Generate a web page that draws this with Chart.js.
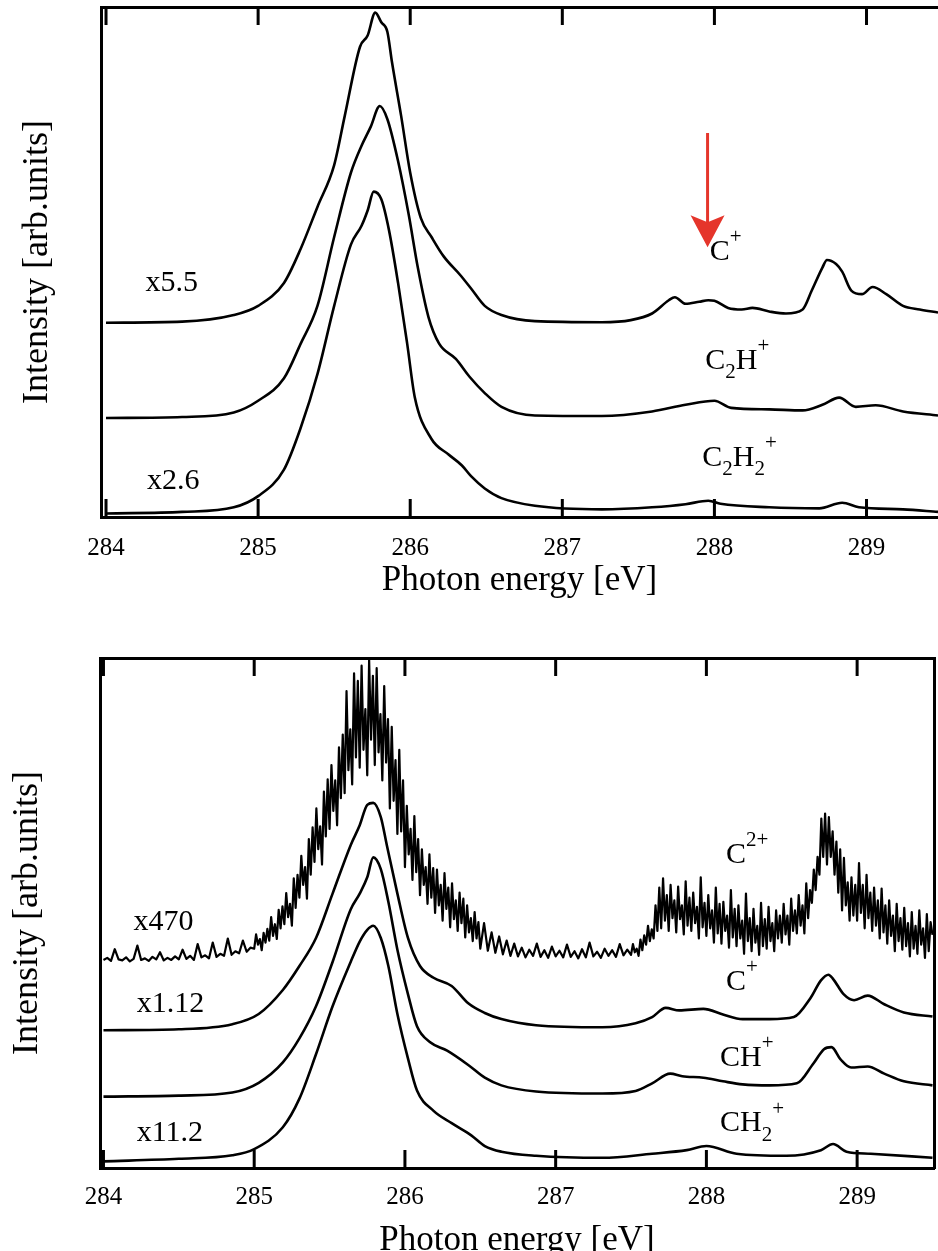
<!DOCTYPE html>
<html>
<head>
<meta charset="utf-8">
<script src="https://cdn.jsdelivr.net/npm/chart.js@4.4.0/dist/chart.umd.min.js"></script>
<style>
  html, body { margin: 0; padding: 0; background: #fff; overflow: hidden; }
  canvas { position: absolute; left: 0; }
  #topChart { top: 0; }
  #bottomChart { top: 620px; }
</style>
</head>
<body>
<canvas id="topChart" width="938" height="640"></canvas>
<canvas id="bottomChart" width="938" height="650"></canvas>
<script>
// photon energy ticks (eV), same for both panels
var xTicks = [284, 285, 286, 287, 288, 289];

// ---- upper panel: C+ (x5.5), C2H+, C2H2+ (x2.6) ----
var cPlusE = [284.0, 284.5, 284.84, 285.0, 285.17, 285.28, 285.39, 285.5, 285.57, 285.67, 285.72, 285.77, 285.81, 285.85, 285.88, 285.94, 286.0, 286.07, 286.14, 286.22, 286.33, 286.4, 286.49, 286.6, 286.82, 287.26, 287.45, 287.59, 287.7, 287.74, 287.81, 287.9, 287.96, 288.0, 288.09, 288.18, 288.25, 288.36, 288.47, 288.58, 288.64, 288.71, 288.74, 288.8, 288.84, 288.9, 288.97, 289.04, 289.13, 289.24, 289.35, 289.47];
var cPlusY = [38.1, 38.3, 39.6, 41.4, 45.9, 52.6, 60.8, 69.0, 78.7, 92.2, 94.4, 98.9, 97.0, 95.1, 89.2, 78.7, 67.5, 58.6, 54.9, 51.1, 47.4, 44.8, 41.4, 39.6, 38.4, 38.2, 38.6, 39.9, 42.5, 43.1, 41.8, 42.2, 42.5, 42.4, 41.0, 40.7, 41.0, 40.3, 39.9, 40.7, 44.4, 48.9, 50.4, 49.6, 48.1, 44.4, 43.7, 45.1, 43.7, 41.4, 40.7, 40.1];

var c2hE = [284.0, 284.5, 284.84, 285.0, 285.17, 285.28, 285.39, 285.5, 285.61, 285.68, 285.74, 285.8, 285.85, 285.92, 285.99, 286.05, 286.12, 286.19, 286.3, 286.39, 286.49, 286.6, 286.82, 287.26, 287.59, 287.81, 288.0, 288.11, 288.36, 288.58, 288.71, 288.82, 288.93, 289.06, 289.24, 289.47];
var c2hY = [19.4, 19.6, 20.5, 22.8, 27.2, 34.0, 41.4, 54.9, 67.5, 72.8, 76.5, 80.6, 78.0, 69.8, 59.3, 48.9, 39.2, 34.0, 31.0, 27.5, 24.3, 21.6, 19.9, 19.8, 20.7, 22.0, 22.8, 21.4, 21.1, 20.9, 22.0, 23.4, 21.6, 21.9, 20.7, 19.9];

var c2h2E = [284.0, 284.5, 284.84, 285.0, 285.17, 285.28, 285.39, 285.5, 285.61, 285.68, 285.72, 285.76, 285.81, 285.86, 285.92, 285.98, 286.03, 286.14, 286.25, 286.34, 286.4, 286.49, 286.6, 286.82, 287.26, 287.59, 287.81, 287.96, 288.04, 288.36, 288.69, 288.84, 288.95, 289.24, 289.47];
var c2h2Y = [0.7, 1.0, 1.9, 4.1, 9.3, 17.5, 28.0, 41.4, 53.4, 57.1, 60.1, 63.8, 62.3, 56.3, 45.9, 34.0, 23.5, 15.3, 12.3, 10.1, 8.0, 5.6, 3.7, 2.2, 1.5, 1.9, 2.5, 3.2, 2.6, 1.9, 1.7, 2.8, 1.9, 1.5, 1.0];

// ---- lower panel: C2+ (x470, noisy), C+ (x1.12), CH+, CH2+ (x11.2) ----
var c2PlusE = [
  284, 284.025, 284.05, 284.075, 284.1, 284.125, 284.15, 284.175, 284.2, 284.225, 284.25, 284.275, 284.3, 284.325, 284.35, 284.375, 284.4, 284.425, 284.45, 284.475,
  284.5, 284.525, 284.55, 284.575, 284.6, 284.625, 284.65, 284.675, 284.7, 284.725, 284.75, 284.775, 284.8, 284.825, 284.85, 284.875, 284.9, 284.925, 284.95, 284.975,
  285, 285.0125, 285.025, 285.0375, 285.05, 285.0625, 285.075, 285.0875,
  285.1, 285.1125, 285.125, 285.1375, 285.15, 285.1625, 285.175, 285.1875,
  285.2, 285.2125, 285.225, 285.2375, 285.25, 285.2625, 285.275, 285.2875,
  285.3, 285.3125, 285.325, 285.3375, 285.35, 285.3625, 285.375, 285.3875,
  285.4, 285.4125, 285.425, 285.4375, 285.45, 285.4625, 285.475, 285.4875,
  285.5, 285.5125, 285.525, 285.5375, 285.55, 285.5625, 285.575, 285.5875,
  285.6, 285.6125, 285.625, 285.6375, 285.65, 285.6625, 285.675, 285.6875,
  285.7, 285.7125, 285.725, 285.7375, 285.75, 285.7625, 285.775, 285.7875,
  285.8, 285.8125, 285.825, 285.8375, 285.85, 285.8625, 285.875, 285.8875,
  285.9, 285.9125, 285.925, 285.9375, 285.95, 285.9625, 285.975, 285.9875,
  286, 286.0125, 286.025, 286.0375, 286.05, 286.0625, 286.075, 286.0875,
  286.1, 286.1125, 286.125, 286.1375, 286.15, 286.1625, 286.175, 286.1875,
  286.2, 286.2125, 286.225, 286.2375, 286.25, 286.2625, 286.275, 286.2875,
  286.3, 286.3125, 286.325, 286.3375, 286.35, 286.3625, 286.375, 286.3875,
  286.4, 286.4125, 286.425, 286.4375, 286.45, 286.4625, 286.475, 286.4875,
  286.5, 286.525, 286.55, 286.575, 286.6, 286.625, 286.65, 286.675, 286.7, 286.725, 286.75, 286.775, 286.8, 286.825, 286.85, 286.875, 286.9, 286.925, 286.95, 286.975,
  287, 287.025, 287.05, 287.075, 287.1, 287.125, 287.15, 287.175, 287.2, 287.225, 287.25, 287.275, 287.3, 287.325, 287.35, 287.375, 287.4, 287.425, 287.45, 287.475,
  287.5, 287.5125, 287.525, 287.5375, 287.55, 287.5625, 287.575, 287.5875,
  287.6, 287.6125, 287.625, 287.6375, 287.65, 287.6625, 287.675, 287.6875,
  287.7, 287.7125, 287.725, 287.7375, 287.75, 287.7625, 287.775, 287.7875,
  287.8, 287.8125, 287.825, 287.8375, 287.85, 287.8625, 287.875, 287.8875,
  287.9, 287.9125, 287.925, 287.9375, 287.95, 287.9625, 287.975, 287.9875,
  288, 288.0125, 288.025, 288.0375, 288.05, 288.0625, 288.075, 288.0875,
  288.1, 288.1125, 288.125, 288.1375, 288.15, 288.1625, 288.175, 288.1875,
  288.2, 288.2125, 288.225, 288.2375, 288.25, 288.2625, 288.275, 288.2875,
  288.3, 288.3125, 288.325, 288.3375, 288.35, 288.3625, 288.375, 288.3875,
  288.4, 288.4125, 288.425, 288.4375, 288.45, 288.4625, 288.475, 288.4875,
  288.5, 288.5125, 288.525, 288.5375, 288.55, 288.5625, 288.575, 288.5875,
  288.6, 288.6125, 288.625, 288.6375, 288.65, 288.6625, 288.675, 288.6875,
  288.7, 288.7125, 288.725, 288.7375, 288.75, 288.7625, 288.775, 288.7875,
  288.8, 288.8125, 288.825, 288.8375, 288.85, 288.8625, 288.875, 288.8875,
  288.9, 288.9125, 288.925, 288.9375, 288.95, 288.9625, 288.975, 288.9875,
  289, 289.0125, 289.025, 289.0375, 289.05, 289.0625, 289.075, 289.0875,
  289.1, 289.1125, 289.125, 289.1375, 289.15, 289.1625, 289.175, 289.1875,
  289.2, 289.2125, 289.225, 289.2375, 289.25, 289.2625, 289.275, 289.2875,
  289.3, 289.3125, 289.325, 289.3375, 289.35, 289.3625, 289.375, 289.3875,
  289.4, 289.4125, 289.425, 289.4375, 289.45, 289.4625, 289.475, 289.4875,
  289.5
];
var c2PlusY = [
  40.8, 41.2, 40.6, 42.9, 40.9, 40.7, 41.3, 40.5, 41.0, 43.6, 40.8, 41.1, 40.6, 41.4, 40.9, 42.3, 40.7, 41.2, 40.8, 41.5,
  40.9, 42.8, 41.0, 41.6, 40.8, 43.9, 41.3, 41.7, 41.1, 44.2, 41.4, 42.0, 41.6, 45.0, 41.8, 42.5, 42.1, 44.6, 42.4, 43.2,
  43.0, 45.8, 43.8, 44.9, 42.7, 46.1, 44.2, 46.9,
  44.6, 49.2, 45.5, 47.8, 44.9, 50.6, 47.0, 51.3,
  47.8, 53.9, 49.2, 51.8, 47.5, 56.8, 51.0, 57.5,
  53.0, 61.2, 55.5, 59.0, 52.8, 64.5, 57.5, 66.8,
  60.0, 70.5, 62.5, 67.0, 59.5, 73.8, 65.0, 76.2,
  66.5, 79.0, 70.0, 76.0, 67.2, 82.5, 72.5, 85.0,
  73.5, 93.5, 78.0, 86.0, 75.2, 97.0, 80.5, 95.5,
  78.5, 98.5, 82.0, 90.0, 77.0, 99.6, 84.0, 96.5,
  79.0, 98.0, 81.5, 89.0, 76.0, 94.5, 79.5, 88.0,
  70.5, 86.5, 72.0, 80.0, 65.5, 82.0, 66.0, 76.0,
  59.0, 71.0, 61.5, 66.5, 56.5, 69.0, 58.0, 64.5,
  53.5, 62.5, 55.5, 59.0, 51.8, 61.5, 53.0, 58.8,
  50.0, 58.5, 51.5, 55.5, 48.5, 57.8, 50.8, 55.0,
  47.2, 55.8, 48.8, 52.5, 46.5, 54.0, 48.0, 52.8,
  45.2, 51.5, 46.2, 49.0, 44.5, 50.2, 45.0, 48.2,
  43.0, 48.0, 42.6, 46.2, 42.2, 45.4, 41.9, 44.6, 41.6, 44.0, 41.5, 43.2, 41.3, 42.8, 41.6, 44.0, 41.4, 42.7, 41.2, 43.4,
  41.5, 42.6, 41.3, 43.8, 41.4, 42.5, 41.1, 42.9, 41.3, 44.2, 41.5, 42.4, 41.2, 43.0, 41.6, 42.7, 41.4, 43.9, 41.7, 42.8,
  41.8, 43.9, 42.3, 43.0, 41.6, 44.8, 42.7, 45.6,
  43.8, 47.5, 44.5, 46.8, 45.0, 51.5, 46.5, 55.0,
  47.0, 56.8, 48.5, 53.5, 46.5, 55.5, 49.0, 52.5,
  46.2, 55.2, 48.8, 51.5, 45.8, 56.2, 47.5, 53.0,
  46.5, 54.0, 48.0, 51.2, 45.0, 57.0, 47.2, 52.0,
  45.5, 53.5, 47.0, 50.5, 44.2, 55.0, 46.0, 51.8,
  44.0, 52.2, 46.5, 49.5, 43.2, 54.5, 45.2, 50.8,
  43.5, 51.5, 45.0, 48.5, 42.0, 53.8, 44.5, 49.0,
  42.5, 50.8, 44.2, 47.5, 41.8, 52.0, 43.5, 48.8,
  43.0, 51.2, 44.5, 48.0, 42.5, 50.5, 45.0, 49.5,
  44.2, 51.8, 45.8, 49.5, 43.8, 52.8, 46.5, 50.5,
  46.0, 53.5, 47.5, 51.5, 46.0, 55.8, 49.0, 54.5,
  52.0, 58.5, 54.5, 61.0, 57.5, 68.5, 61.0, 69.5,
  59.5, 68.8, 61.0, 66.0, 57.5, 64.0, 54.0, 62.5,
  50.5, 60.8, 51.5, 56.0, 48.5, 57.0, 49.5, 55.5,
  48.5, 59.8, 50.0, 55.5, 47.0, 57.5, 49.0, 54.0,
  46.5, 55.0, 47.5, 52.5, 45.0, 54.8, 46.2, 51.5,
  44.0, 52.5, 45.5, 49.5, 42.5, 51.8, 44.5, 49.0,
  42.8, 51.0, 43.5, 48.0, 41.5, 50.2, 43.0, 47.5,
  42.0, 50.5, 43.8, 47.0, 41.2, 49.8, 42.5, 48.2,
  45.7
];

var cPlus2E = [284.0, 284.5, 284.855, 285.03, 285.19, 285.3, 285.41, 285.52, 285.64, 285.7, 285.75, 285.79, 285.84, 285.88, 285.95, 286.02, 286.1, 286.19, 286.31, 286.42, 286.53, 286.64, 286.87, 287.31, 287.53, 287.64, 287.73, 287.82, 287.98, 288.11, 288.24, 288.42, 288.58, 288.69, 288.76, 288.81, 288.84, 288.91, 288.98, 289.07, 289.18, 289.31, 289.5];
var cPlus2Y = [27.0, 27.2, 28.2, 30.2, 34.9, 39.6, 45.1, 53.8, 63.3, 67.2, 71.2, 71.6, 68.8, 63.3, 53.8, 45.1, 39.6, 37.3, 35.7, 32.3, 30.4, 29.2, 28.0, 27.6, 28.4, 29.6, 31.4, 30.9, 31.2, 30.1, 29.2, 29.2, 29.6, 33.3, 36.8, 37.9, 37.1, 34.1, 32.9, 33.8, 32.1, 30.5, 29.7];

var chE = [284.0, 284.5, 284.855, 285.03, 285.19, 285.3, 285.41, 285.52, 285.64, 285.7, 285.75, 285.79, 285.84, 285.89, 285.95, 286.02, 286.08, 286.17, 286.28, 286.42, 286.53, 286.64, 286.87, 287.31, 287.53, 287.64, 287.76, 287.84, 287.98, 288.11, 288.24, 288.42, 288.6, 288.71, 288.78, 288.83, 288.89, 288.96, 289.07, 289.18, 289.31, 289.5];
var chY = [14.0, 14.2, 14.8, 16.7, 20.7, 25.4, 31.7, 40.4, 50.7, 53.8, 57.0, 60.9, 58.6, 52.2, 42.8, 34.1, 27.8, 24.6, 23.0, 20.2, 17.7, 16.2, 15.0, 14.6, 15.1, 16.6, 18.5, 18.0, 17.7, 17.0, 16.4, 16.2, 16.6, 20.5, 23.3, 23.7, 21.3, 19.7, 19.9, 18.5, 17.0, 16.2];

var ch2E = [284.0, 284.5, 284.855, 285.0, 285.19, 285.3, 285.41, 285.52, 285.64, 285.7, 285.75, 285.79, 285.84, 285.89, 285.95, 286.02, 286.08, 286.19, 286.31, 286.44, 286.53, 286.64, 286.87, 287.31, 287.64, 287.87, 288.0, 288.2, 288.53, 288.76, 288.84, 288.93, 289.09, 289.5];
var ch2Y = [1.3, 1.8, 2.5, 3.7, 8.0, 13.6, 22.3, 31.7, 40.4, 44.4, 46.7, 47.5, 45.1, 39.6, 30.2, 21.5, 15.2, 11.2, 8.8, 6.4, 4.3, 3.2, 2.4, 2.0, 2.8, 3.5, 4.3, 2.8, 2.4, 3.5, 4.7, 3.2, 2.8, 2.0];

var FONT = "'Liberation Serif', 'Times New Roman', serif";

function pts(xs, ys) {
    return xs.map(function (x, i) { return { x: x, y: ys[i] }; });
}

function trace(xs, ys, noisy) {
    return {
        data: pts(xs, ys),
        borderColor: '#000',
        borderWidth: noisy ? 2.2 : 2.6,
        pointRadius: 0,
        fill: false,
        tension: 0,
        cubicInterpolationMode: noisy ? 'default' : 'monotone',
        borderJoinStyle: 'round'
    };
}

// inward tick marks, species labels, red arrow
var decorPlugin = {
    id: 'decor',
    afterDraw: function (chart) {
        var o = chart.options.plugins.decor;
        var ctx = chart.ctx, a = chart.chartArea;
        var sx = chart.scales.x, sy = chart.scales.y;
        ctx.save();
        ctx.strokeStyle = '#000';
        ctx.lineWidth = 3;
        sx.ticks.forEach(function (t) {
            var px = sx.getPixelForValue(t.value);
            ctx.beginPath();
            ctx.moveTo(px, a.bottom); ctx.lineTo(px, a.bottom - 18);
            ctx.moveTo(px, a.top); ctx.lineTo(px, a.top + 18);
            ctx.stroke();
        });

        ctx.fillStyle = '#000';
        ctx.textBaseline = 'middle';
        ctx.textAlign = 'left';
        o.labels.forEach(function (lb) {
            var px = sx.getPixelForValue(lb.x), py = sy.getPixelForValue(lb.y);
            lb.parts.forEach(function (p) {
                var size = p[1] ? 21 : 30;
                var dy = p[1] === 'sup' ? -14 : (p[1] === 'sub' ? 12 : 0);
                ctx.font = size + 'px ' + FONT;
                ctx.fillText(p[0], px, py + dy);
                px += ctx.measureText(p[0]).width;
            });
        });

        if (o.arrow) {
            var ax = sx.getPixelForValue(o.arrow.x);
            var y0 = sy.getPixelForValue(o.arrow.from);
            var yTip = sy.getPixelForValue(o.arrow.to);
            var yHead = yTip - 32;
            ctx.strokeStyle = '#e5352b';
            ctx.fillStyle = '#e5352b';
            ctx.lineWidth = 3;
            ctx.beginPath();
            ctx.moveTo(ax, y0); ctx.lineTo(ax, yHead + 8);
            ctx.stroke();
            ctx.beginPath();
            ctx.moveTo(ax - 17, yHead);
            ctx.lineTo(ax, yHead + 7);
            ctx.lineTo(ax + 17, yHead);
            ctx.lineTo(ax, yTip);
            ctx.closePath();
            ctx.fill();
        }
        ctx.restore();
    }
};

function makePanel(id, p) {
    var scales = {
        x: {
            type: 'linear', position: 'bottom', min: p.xMin, max: p.xMax,
            afterBuildTicks: function (s) { s.ticks = xTicks.map(function (v) { return { value: v }; }); },
            afterFit: function (s) { s.height = p.xHeight; },
            ticks: { color: '#000', font: { family: FONT, size: 25 }, padding: p.tickPad, maxRotation: 0, autoSkip: false },
            grid: { display: false },
            border: { display: true, color: '#000', width: 3 },
            title: { display: true, text: 'Photon energy [eV]', color: '#000', font: { family: FONT, size: 35 }, padding: { top: 0, bottom: p.titlePad } }
        },
        xTop: {
            type: 'linear', position: 'top', min: p.xMin, max: p.xMax,
            afterFit: function (s) { s.height = 0; },
            ticks: { display: false },
            grid: { display: false },
            border: { display: true, color: '#000', width: 3 }
        },
        y: {
            type: 'linear', position: 'left', min: 0, max: 100,
            afterFit: function (s) { s.width = p.yWidth; },
            ticks: { display: false },
            grid: { display: false },
            border: { display: true, color: '#000', width: 3 },
            title: { display: true, text: 'Intensity [arb.units]', color: '#000', font: { family: FONT, size: 36 }, padding: { top: p.yTitlePad, bottom: 0 } }
        }
    };
    if (p.rightBorder) {
        scales.yRight = {
            type: 'linear', position: 'right', min: 0, max: 100,
            afterFit: function (s) { s.width = 0; },
            ticks: { display: false },
            grid: { display: false },
            border: { display: true, color: '#000', width: 3 }
        };
    }
    return new Chart(document.getElementById(id).getContext('2d'), {
        type: 'line',
        data: { datasets: p.datasets },
        options: {
            responsive: false,
            animation: false,
            devicePixelRatio: 1,
            layout: { padding: p.padding },
            plugins: {
                legend: { display: false },
                tooltip: { enabled: false },
                decor: { labels: p.labels, arrow: p.arrow }
            },
            scales: scales
        },
        plugins: [decorPlugin]
    });
}

makePanel('topChart', {
    xMin: 283.967, xMax: 289.47,
    xHeight: 123, tickPad: 8, titlePad: 38, yWidth: 101, yTitlePad: 16,
    padding: { top: 7, right: 0, bottom: 0, left: 0 },
    rightBorder: false,
    datasets: [trace(cPlusE, cPlusY), trace(c2hE, c2hY), trace(c2h2E, c2h2Y)],
    labels: [
        { x: 284.26, y: 45.9, parts: [['x5.5']] },
        { x: 284.27, y: 7.1, parts: [['x2.6']] },
        { x: 287.97, y: 52.0, parts: [['C'], ['+', 'sup']] },
        { x: 287.94, y: 30.6, parts: [['C'], ['2', 'sub'], ['H'], ['+', 'sup']] },
        { x: 287.92, y: 11.6, parts: [['C'], ['2', 'sub'], ['H'], ['2', 'sub'], ['+', 'sup']] }
    ],
    arrow: { x: 287.955, from: 75.3, to: 52.9 }
});

makePanel('bottomChart', {
    xMin: 283.977, xMax: 289.51,
    xHeight: 102, tickPad: 6, titlePad: 8, yWidth: 100, yTitlePad: 6,
    padding: { top: 38, right: 4, bottom: 0, left: 0 },
    rightBorder: true,
    datasets: [trace(c2PlusE, c2PlusY, true), trace(cPlus2E, cPlus2Y), trace(chE, chY), trace(ch2E, ch2Y)],
    labels: [
        { x: 284.2, y: 48.2, parts: [['x470']] },
        { x: 284.22, y: 32.2, parts: [['x1.12']] },
        { x: 284.22, y: 6.9, parts: [['x11.2']] },
        { x: 288.13, y: 61.4, parts: [['C'], ['2+', 'sup']] },
        { x: 288.13, y: 36.5, parts: [['C'], ['+', 'sup']] },
        { x: 288.09, y: 21.6, parts: [['CH'], ['+', 'sup']] },
        { x: 288.09, y: 8.8, parts: [['CH'], ['2', 'sub'], ['+', 'sup']] }
    ],
    arrow: null
});
</script>
</body>
</html>
